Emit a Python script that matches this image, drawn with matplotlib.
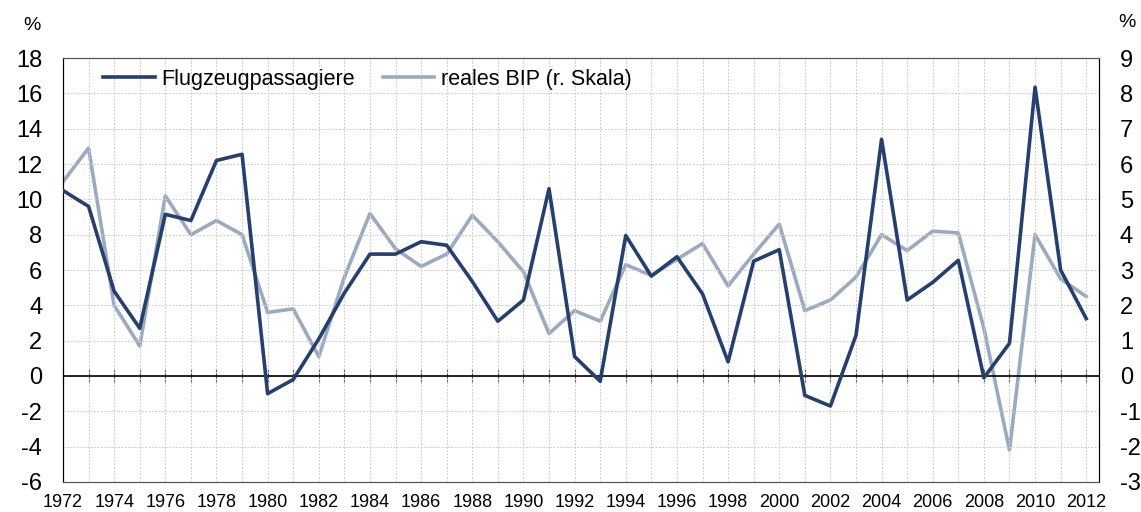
import matplotlib
matplotlib.use("Agg")
import matplotlib.pyplot as plt
from matplotlib.ticker import MultipleLocator

plt.rcParams["font.family"] = ["Liberation Sans", "DejaVu Sans"]
plt.rcParams["axes.unicode_minus"] = False

YEARS = list(range(1972, 2013))

# Flugzeugpassagiere, % (linke Skala)
PASSENGERS = [
    10.5, 9.6, 4.8, 2.7, 9.15, 8.8, 12.2, 12.55, -1.0, -0.2,
    2.1, 4.7, 6.9, 6.9, 7.6, 7.4, 5.35, 3.1, 4.3, 10.6,
    1.1, -0.3, 7.95, 5.65, 6.75, 4.65, 0.8, 6.5, 7.15, -1.1,
    -1.7, 2.3, 13.4, 4.3, 5.3, 6.55, -0.1, 1.85, 16.35, 6.0,
    3.25,
]

# reales BIP, % (rechte Skala)
GDP = [
    5.5, 6.45, 2.0, 0.85, 5.1, 4.0, 4.4, 4.0, 1.8, 1.9,
    0.55, 2.8, 4.6, 3.6, 3.1, 3.45, 4.55, 3.8, 2.95, 1.2,
    1.85, 1.55, 3.15, 2.85, 3.3, 3.75, 2.55, 3.45, 4.3, 1.85,
    2.15, 2.8, 4.0, 3.55, 4.1, 4.05, 1.35, -2.1, 4.0, 2.75,
    2.25,
]

LEFT_TICKS = list(range(-6, 19, 2))
RIGHT_TICKS = list(range(-3, 10, 1))
X_TICKS = list(range(1972, 2013, 2))

DARK = "#253F6E"
LIGHT = "#9AAAC0"

fig = plt.figure(figsize=(11.41, 5.12), dpi=100)
ax = fig.add_axes([0.0552, 0.0586, 0.9080, 0.8281])
ax2 = ax.twinx()

ax.plot(YEARS, PASSENGERS, color=DARK, linewidth=2.6, label="Flugzeugpassagiere", zorder=4)
ax2.plot(YEARS, GDP, color=LIGHT, linewidth=2.6, label="reales BIP (r. Skala)", zorder=3)
ax.set_zorder(ax2.get_zorder() + 1)
ax.patch.set_visible(False)

ax.set_xlim(1972, 2012.5)
ax.set_ylim(-6, 18)
ax2.set_ylim(-3, 9)
ax.set_yticks(LEFT_TICKS)
ax2.set_yticks(RIGHT_TICKS)
ax.set_xticks(X_TICKS)
ax.xaxis.set_minor_locator(MultipleLocator(1))

ax.grid(which="both", axis="x", color="#CDCDCD", linestyle=(0, (2, 1.5)), linewidth=0.7)
ax.grid(which="major", axis="y", color="#CDCDCD", linestyle=(0, (2, 1.5)), linewidth=0.7)
ax.set_axisbelow(True)

ax.axhline(0, color="black", linewidth=1.2, zorder=2)
zero_axis = ax.secondary_xaxis(0.25)
zero_axis.set_xticks(YEARS)
zero_axis.tick_params(direction="inout", length=10, width=0.8, color="#444444", labelbottom=False)
zero_axis.spines["bottom"].set_visible(False)

ax.tick_params(axis="x", which="both", length=0, labelsize=13, pad=8.5)
ax.tick_params(axis="y", length=0, labelsize=17, pad=15)
ax2.tick_params(axis="y", length=0, labelsize=17, pad=15)

for a in (ax, ax2):
    a.spines["top"].set_color("#555555")
    a.spines["bottom"].set_color("#555555")
    a.spines["left"].set_color("black")
    a.spines["right"].set_color("black")

fig.text(0.028, 0.951, "%", fontsize=14, ha="center", va="center")
fig.text(0.9875, 0.957, "%", fontsize=14, ha="center", va="center")

h1, l1 = ax.get_legend_handles_labels()
h2, l2 = ax2.get_legend_handles_labels()
ax.legend(h1 + h2, l1 + l2, loc="upper left", ncol=2, frameon=False, fontsize=15.5,
          handlelength=2.4, columnspacing=1.3, handletextpad=0.3,
          bbox_to_anchor=(0.02, 1.02))

fig.savefig("out.png", dpi=100, facecolor="white")
